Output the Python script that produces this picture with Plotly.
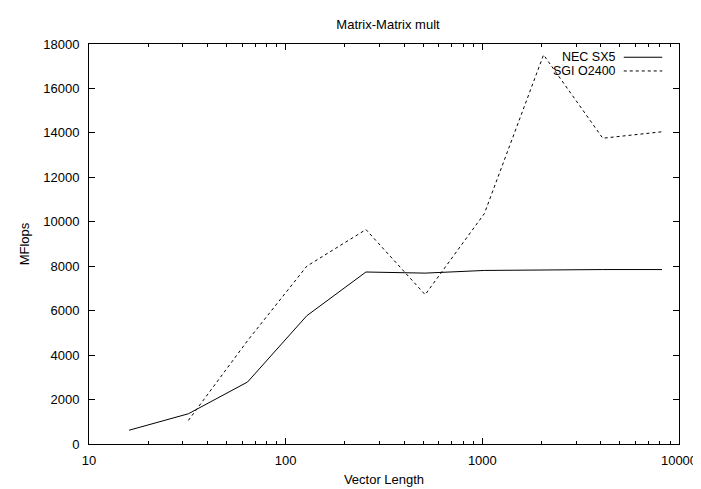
import plotly.graph_objects as go

# Data
nec_x = [16, 32, 64, 128, 256, 512, 1024, 2048, 4096, 8192]
nec_y = [620, 1360, 2790, 5770, 7740, 7690, 7810, 7840, 7850, 7850]
sgi_x = [32, 64, 128, 256, 512, 1024, 2048, 4096, 8192]
sgi_y = [1060, 4650, 8000, 9650, 6720, 10370, 17510, 13760, 14050]
series_names = ["NEC SX5", "SGI O2400"]
x_ticks = [10, 100, 1000, 10000]
x_minor = [v * m for v in [10, 100, 1000] for m in range(2, 10)]
y_ticks = list(range(0, 18001, 2000))

FONT = "Liberation Sans, Arial, Helvetica, sans-serif"
L, R, T, B = 81, 22, 36, 45

fig = go.Figure()
fig.add_trace(go.Scatter(x=nec_x, y=nec_y, mode="lines", name=series_names[0],
                         line=dict(color="black", width=1), showlegend=False))
fig.add_trace(go.Scatter(x=sgi_x, y=sgi_y, mode="lines", name=series_names[1],
                         line=dict(color="black", width=1, dash="3px,3px"), showlegend=False))

fig.update_layout(
    width=701, height=489,
    margin=dict(l=L, r=R, t=T, b=B),
    paper_bgcolor="white", plot_bgcolor="white",
    font=dict(family=FONT, size=13, color="black"),
    title=dict(text="Matrix-Matrix mult", x=(L + 701 - R) / 2 / 701, xanchor="center",
               y=1 - 16 / 489, yanchor="middle", font=dict(size=13, family=FONT)),
)
fig.update_xaxes(
    type="log", range=[1, 4], tickvals=x_ticks, ticktext=[str(v) for v in x_ticks],
    ticks="inside", ticklen=6, tickcolor="black", tickwidth=1,
    showline=True, linecolor="black", linewidth=1, mirror="allticks",
    showgrid=False, zeroline=False,
    minor=dict(tickvals=x_minor, ticks="inside", ticklen=3, tickcolor="black", showgrid=False),
    title=dict(text="Vector Length", standoff=8, font=dict(size=13)),
    ticklabelstandoff=4,
)
fig.update_yaxes(
    range=[0, 18000], tickvals=y_ticks, ticktext=[str(v) for v in y_ticks],
    ticks="inside", ticklen=6, tickcolor="black", tickwidth=1,
    showline=True, linecolor="black", linewidth=1, mirror="allticks",
    showgrid=False, zeroline=False,
    title=dict(text="MFlops", standoff=10, font=dict(size=13)),
    ticklabelstandoff=6,
)

# Gnuplot-style key (text right-aligned, sample to its right)
pw = 701 - L - R
ph = 489 - T - B
def px(x): return (x - L) / pw
def py(y): return (T + ph - y) / ph
for i, (name, dash) in enumerate(zip(series_names, ["solid", "3px,3px"])):
    yy = 49.5 + 14 * i
    fig.add_annotation(x=px(616), y=py(yy), xref="paper", yref="paper", text=name,
                       showarrow=False, xanchor="right", yanchor="middle", height=12,
                       borderpad=0, font=dict(size=12.5, family=FONT, color="black"))
    fig.add_shape(type="line", xref="paper", yref="paper", x0=px(623), x1=px(662),
                  y0=py(yy), y1=py(yy), line=dict(color="black", width=1, dash=dash))

fig.write_html("out.html")
